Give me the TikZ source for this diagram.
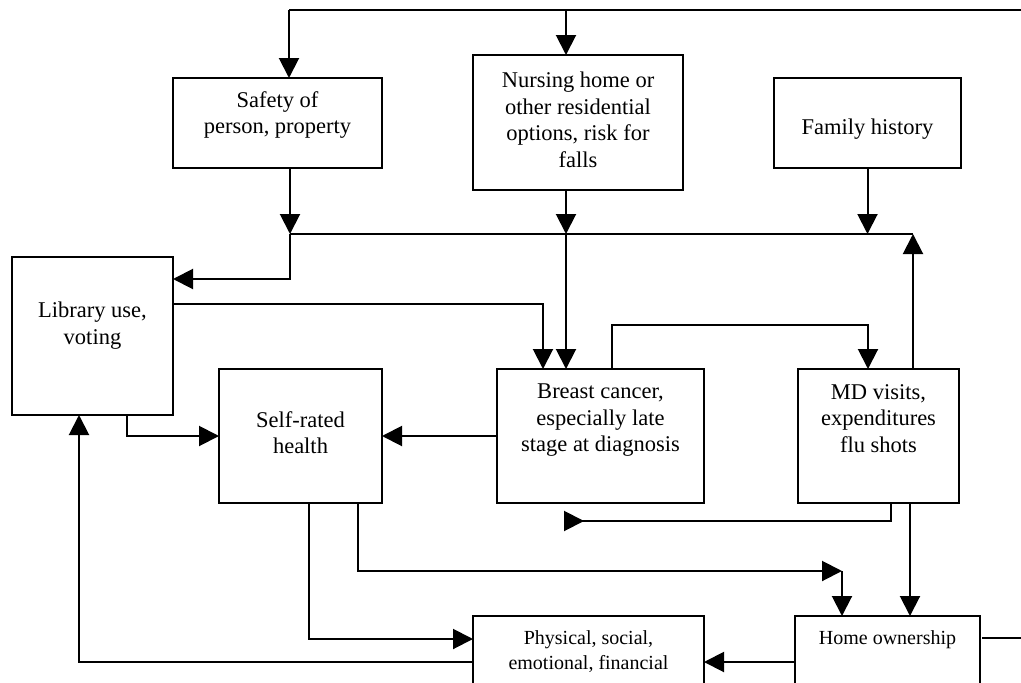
\documentclass[tikz,border=0pt]{standalone}
\usepackage{fontspec}
\setmainfont{Liberation Serif}
\usetikzlibrary{arrows.meta,calc}

\begin{document}
\begin{tikzpicture}[x=1pt,y=-1pt,
  box/.style={draw,line width=2pt,rectangle,inner sep=0pt,outer sep=0pt},
  txt/.style={align=center,inner sep=0pt,anchor=north,font=\fontsize{22.5}{26.5}\selectfont},
  smalltxt/.style={txt,font=\fontsize{20}{25}\selectfont},
  link/.style={line width=2pt},
  arr/.style={link,-{Triangle[length=20pt,width=20pt]}},
  revarr/.style={link,-{Triangle[length=20pt,width=20pt,reversed]}}]

% frame of the figure
\useasboundingbox (0,0) rectangle (1021,683);
\fill[white] (0,0) rectangle (1021,683);
\clip (0,0) rectangle (1021,683);

% boxes
\node[box,minimum width=209pt,minimum height=90pt]  (safety)    at (277.5,123)  {};
\node[box,minimum width=210pt,minimum height=135pt] (nursing)   at (578,122.5)  {};
\node[box,minimum width=187pt,minimum height=90pt]  (family)    at (867.5,123)  {};
\node[box,minimum width=161pt,minimum height=158pt] (library)   at (92.5,336)   {};
\node[box,minimum width=163pt,minimum height=134pt] (selfrated) at (300.5,436)  {};
\node[box,minimum width=207pt,minimum height=134pt] (breast)    at (600.5,436)  {};
\node[box,minimum width=161pt,minimum height=134pt] (md)        at (878.5,436)  {};
\node[box,minimum width=231pt,minimum height=120pt] (physical)  at (588.5,676)  {};
\node[box,minimum width=185pt,minimum height=120pt] (home)      at (887.5,676)  {};

% box texts
\node[txt] (safetyT)  at (277.5,91)  {Safety of\\person, property};
\node[txt] (nursingT) at (578,72)    {Nursing home or\\other residential\\options, risk for\\falls};
\node[txt] (familyT)  at (867.5,119) {Family history};
\node[txt] (libraryT) at (92.5,302)  {Library use,\\voting};
\node[txt] (selfT)    at (300.5,411) {Self-rated\\health};
\node[txt] (breastT)  at (600.5,384) {Breast cancer,\\especially late\\stage at diagnosis};
\node[txt] (mdT)      at (878.5,384) {MD visits,\\expenditures\\flu shots};
\node[smalltxt] (physicalT) at (588.5,630) {Physical, social,\\emotional, financial};
\node[smalltxt] (homeT)     at (887.5,630) {Home ownership};

% helper rows and free ends
\coordinate (topEnd)  at (1030,10);
\coordinate (busY)    at (0,234);
\coordinate (libY)    at (0,279);
\coordinate (libOutY) at (0,304);
\coordinate (loopY)   at (0,325);
\coordinate (backY)   at (0,521);
\coordinate (rowY)    at (0,571);
\coordinate (physInY) at (0,639);
\coordinate (physY)   at (0,662);
\coordinate (rightEnd) at (1030,638);
\coordinate (backEnd) at (564,521);

\coordinate (safetyIn) at ($(safety.north)+(11.5,0)$);
\coordinate (safeOut)  at ($(safety.south)+(12.5,0)$);
\coordinate (nursIn)   at ($(nursing.north)+(-12,0)$);
\coordinate (nursOut)  at ($(nursing.south)+(-12,0)$);
\coordinate (mdUp)     at ($(md.north)+(34.5,0)$);
\coordinate (mdIn)     at ($(md.north)+(-10.5,0)$);
\coordinate (mdOut1)   at ($(md.south)+(31.5,0)$);
\coordinate (mdOut2)   at ($(md.south)+(12.5,0)$);
\coordinate (brIn1)    at ($(breast.north)+(-57.5,0)$);
\coordinate (brOut)    at ($(breast.north)+(11.5,0)$);
\coordinate (libDown)  at ($(library.south)+(34.5,0)$);
\coordinate (libUp)    at ($(library.south)+(-13.5,0)$);
\coordinate (srOut1)   at ($(selfrated.south)+(8.5,0)$);
\coordinate (srOut2)   at ($(selfrated.south)+(57.5,0)$);
\coordinate (homeIn1)  at ($(home.north)+(-45.5,0)$);

% top feed line
\draw[link,line width=2.6pt] (topEnd) -- (topEnd -| safetyIn);
\draw[arr] (topEnd -| safetyIn) -- (safetyIn);
\draw[arr] (topEnd -| nursIn) -- (nursIn);

% collecting line
\draw[arr] (safeOut) -- (safeOut |- busY);
\draw[arr] (nursOut) -- (nursOut |- busY);
\draw[arr] (family.south) -- (family.south |- busY);
\draw[arr] (mdUp) -- (mdUp |- busY);
\draw[link] (safeOut |- busY) -- (mdUp |- busY);
\draw[arr] (safeOut |- busY) |- (library.east |- libY);
\draw[arr] (nursOut |- busY) -- (nursOut |- breast.north);

% middle row
\draw[arr] (library.east |- libOutY) -| (brIn1);
\draw[arr] (brOut) -- (brOut |- loopY) -- (mdIn |- loopY) -- (mdIn);
\draw[arr] (breast.west) -- (selfrated.east);
\draw[arr] (libDown) |- (selfrated.west);
\draw[revarr] (mdOut2) |- (backEnd);

% lower part
\draw[arr] (physical.west |- physY) -| (libUp);
\draw[arr] (srOut1) |- (physical.west |- physInY);
\draw[arr] (srOut2) |- (homeIn1 |- rowY);
\draw[arr] (homeIn1 |- rowY) -- (homeIn1);
\draw[arr] (mdOut1) -- (mdOut1 |- home.north);
\draw[arr] (home.west |- physY) -- (physical.east |- physY);
\draw[link] ([xshift=2pt]home.east |- rightEnd) -- (rightEnd);
\end{tikzpicture}
\end{document}
